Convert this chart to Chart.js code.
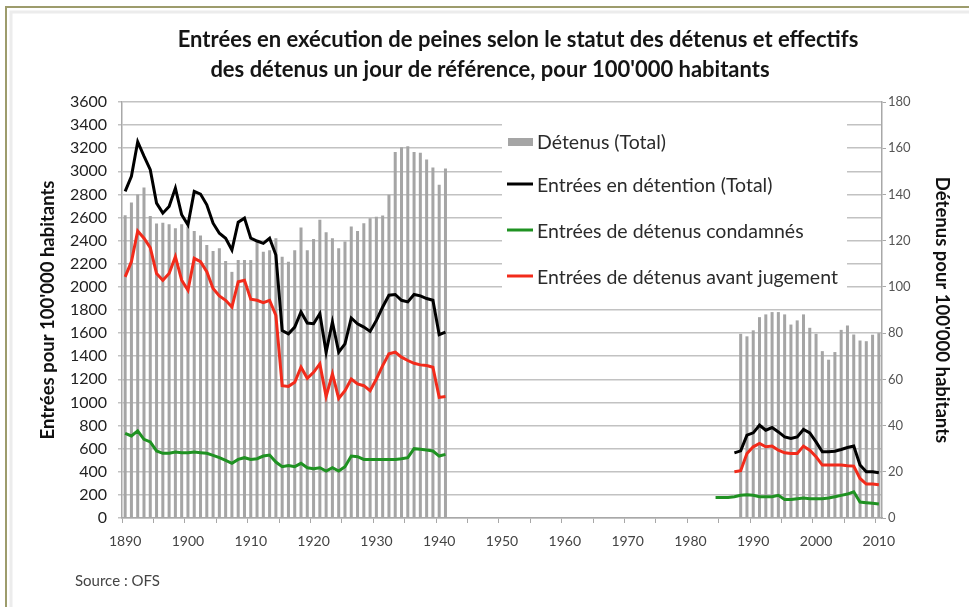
<!DOCTYPE html>
<html lang="fr">
<head>
<meta charset="utf-8">
<title>Entrées en exécution de peines</title>
<script src="https://cdn.jsdelivr.net/npm/chart.js@4.4.1/dist/chart.umd.min.js"></script>
<style>
  html, body { margin: 0; padding: 0; background: #fff; }
  #wrap { position: relative; width: 969px; height: 607px; }
</style>
</head>
<body>
<div id="wrap"><canvas id="chart" width="969" height="607"></canvas></div>
<script>
// categories: one per year, 1890 to 2010
const years = [];
for (let y = 1890; y <= 2010; y++) years.push(String(y));

// labels shown under the x axis
const tickYears = ["1890", "1900", "1910", "1920", "1930", "1940", "1950",
  "1960", "1970", "1980", "1990", "2000", "2010"];

// Détenus (Total), right axis, 1890-1941 and 1988-2010
const detenusEarly = [131, 136.5, 140, 143, 130.7, 127.4, 127.8, 127.1, 125.4, 127.1,
  126.1, 124.2, 122.2, 118.1, 115.5, 116.7, 111.2, 106.5, 111.6, 111.6,
  111.6, 119.6, 115.2, 115.9, 121, 113, 110.9, 115.9, 125.7, 115.9,
  120.7, 129, 123.6, 121, 116.7, 119.6, 126.1, 124.2, 127.5, 129.7,
  130.4, 130.9, 139.9, 158.4, 160.4, 160.9, 158.4, 158, 155.1, 151.7,
  144.2, 151.2];
const detenusLate = [79.7, 78.6, 81.2, 86.9, 88.1, 89.1, 89.1, 88.1, 83.7, 85.5,
  88.1, 82.3, 79.7, 72.2, 68.5, 71.8, 81.4, 83.3, 79.4, 76.8,
  76.5, 79.3, 80];

// Entrées en détention (Total), 1890-1941 and 1987-2010
const totalEarly = [2826, 2957, 3256, 3131, 3015, 2725, 2638, 2696, 2855, 2624,
  2537, 2826, 2803, 2710, 2551, 2464, 2421, 2319, 2560, 2595,
  2421, 2397, 2377, 2421, 2276, 1623, 1594, 1652, 1783, 1687,
  1681, 1768, 1435, 1696, 1435, 1507, 1731, 1681, 1652, 1615,
  1710, 1826, 1928, 1934, 1884, 1870, 1934, 1922, 1899, 1884,
  1586, 1609];
const totalLate = [564, 581, 717, 737, 803, 760, 783, 745, 702, 688,
  702, 766, 737, 659, 573, 573, 578, 593, 610, 622,
  458, 400, 400, 391];

// Entrées de détenus condamnés, 1890-1941 and 1984-2010
const condamnesEarly = [733, 710, 754, 681, 658, 580, 560, 560, 571, 565,
  565, 571, 565, 560, 542, 522, 499, 473, 507, 522,
  507, 513, 536, 545, 484, 444, 455, 444, 473, 435,
  426, 435, 406, 435, 406, 444, 536, 531, 507, 507,
  507, 507, 507, 507, 513, 522, 600, 594, 588, 580,
  536, 551];
const condamnesLate = [178, 178, 178, 184, 196, 201, 196, 184, 184, 184,
  196, 161, 161, 167, 173, 167, 167, 167, 173, 184,
  196, 207, 227, 138, 132, 127, 121];

// Entrées de détenus avant jugement, 1890-1941 and 1987-2010
const avantEarly = [2087, 2218, 2484, 2421, 2339, 2116, 2058, 2116, 2261, 2058,
  1971, 2247, 2218, 2131, 1986, 1922, 1884, 1826, 2044, 2058,
  1893, 1884, 1864, 1884, 1754, 1145, 1139, 1174, 1305, 1209,
  1261, 1334, 1052, 1247, 1035, 1102, 1203, 1160, 1145, 1102,
  1203, 1319, 1421, 1435, 1392, 1363, 1339, 1325, 1319, 1305,
  1044, 1052];
const avantLate = [400, 409, 558, 616, 645, 616, 622, 587, 564, 558,
  558, 622, 587, 530, 458, 458, 458, 458, 452, 449,
  342, 294, 294, 288];

// put the two periods on the full year axis, gaps stay null
function placeSeries(early, lateStart, late) {
  const out = years.map(() => null);
  early.forEach((v, i) => { out[i] = v; });
  const offset = years.indexOf(String(lateStart));
  late.forEach((v, i) => { out[offset + i] = v; });
  return out;
}

const detenus = placeSeries(detenusEarly, 1988, detenusLate);
const total = placeSeries(totalEarly, 1987, totalLate);
const condamnes = placeSeries(condamnesEarly, 1984, condamnesLate);
const avant = placeSeries(avantEarly, 1987, avantLate);

const FONT = "Lato, 'DejaVu Sans', sans-serif";

// title, source, legend box and frame
const decorations = {
  id: "decorations",
  beforeDraw(chart) {
    const c = chart.ctx;
    c.save();
    c.fillStyle = "#fff";
    c.fillRect(0, 0, chart.width, chart.height);
    c.strokeStyle = "#ececec";
    c.lineWidth = 3;
    c.beginPath();
    c.moveTo(11, chart.height);
    c.lineTo(11, 12);
    c.lineTo(chart.width, 12);
    c.stroke();
    c.strokeStyle = "#9d9c6c";
    c.lineWidth = 2;
    c.beginPath();
    c.moveTo(6, chart.height);
    c.lineTo(6, 7);
    c.lineTo(chart.width, 7);
    c.stroke();
    c.restore();
  },
  afterDraw(chart) {
    const c = chart.ctx;
    c.save();

    c.fillStyle = "#151515";
    c.font = "bold 22px " + FONT;
    c.textAlign = "center";
    c.textBaseline = "middle";
    c.fillText("Entrées en exécution de peines selon le statut des détenus et effectifs", 518, 40);
    c.fillText("des détenus un jour de référence, pour 100'000 habitants", 490, 70);

    c.fillStyle = "#444";
    c.font = "15px " + FONT;
    c.textAlign = "left";
    c.fillText("Source : OFS", 75, 581);

    // legend inside the plot
    c.fillStyle = "#fff";
    c.fillRect(502, 110, 345, 188);
    const ds = chart.data.datasets;
    const bar = ds.find((d) => d.type === "bar");
    const lines = ds.filter((d) => d.type === "line");
    c.font = "19.5px " + FONT;
    c.textBaseline = "middle";
    c.fillStyle = bar.backgroundColor;
    c.fillRect(508, 138, 25, 8);
    c.fillStyle = "#2b2b2b";
    c.fillText(bar.label, 537, 143);
    const rowsY = [186, 232, 278];
    lines.forEach((d, i) => {
      c.strokeStyle = d.borderColor;
      c.lineWidth = 3;
      c.beginPath();
      c.moveTo(507, rowsY[i] - 2);
      c.lineTo(533, rowsY[i] - 2);
      c.stroke();
      c.fillStyle = "#2b2b2b";
      c.fillText(d.label, 537, rowsY[i]);
    });
    c.restore();
  },
};

const gridGray = "#c2c2c2";
const axisGray = "#a8a8a8";

new Chart(document.getElementById("chart"), {
  type: "bar",
  data: {
    labels: years,
    datasets: [
      {
        type: "line",
        label: "Entrées en détention (Total)",
        data: total,
        borderColor: "#000000",
        borderWidth: 3,
        pointRadius: 0,
        yAxisID: "y",
        order: 1,
      },
      {
        type: "line",
        label: "Entrées de détenus condamnés",
        data: condamnes,
        borderColor: "#1f9222",
        borderWidth: 3,
        pointRadius: 0,
        yAxisID: "y",
        order: 2,
      },
      {
        type: "line",
        label: "Entrées de détenus avant jugement",
        data: avant,
        borderColor: "#f22b1b",
        borderWidth: 3,
        pointRadius: 0,
        yAxisID: "y",
        order: 3,
      },
      {
        type: "bar",
        label: "Détenus (Total)",
        data: detenus,
        backgroundColor: "#a5a5a5",
        barPercentage: 0.48,
        categoryPercentage: 1,
        yAxisID: "y1",
        order: 4,
      },
    ],
  },
  options: {
    responsive: false,
    animation: false,
    layout: { padding: { left: 37, right: 16, top: 102, bottom: 40 } },
    plugins: { legend: { display: false }, tooltip: { enabled: false } },
    scales: {
      x: {
        afterFit: (s) => { s.height = 49; },
        grid: {
          drawOnChartArea: false,
          tickLength: 5,
          color: (ctx) => (ctx.index % 5 === 0 ? axisGray : "rgba(0,0,0,0)"),
        },
        border: { color: axisGray, width: 1.5 },
        ticks: {
          autoSkip: false,
          maxRotation: 0,
          padding: 10,
          color: "#444",
          font: { family: FONT, size: 14 },
          callback: function (value) {
            const lab = this.getLabelForValue(value);
            return tickYears.includes(lab) ? lab : "";
          },
        },
      },
      y: {
        position: "left",
        min: 0,
        max: 3600,
        afterFit: (s) => { s.width = 85; },
        grid: { color: gridGray, lineWidth: 1.5, tickLength: 4 },
        border: { color: axisGray, width: 1.5 },
        ticks: {
          stepSize: 200,
          padding: 11,
          color: "#222",
          font: { family: FONT, size: 16 },
          callback: (v) => String(v),
        },
        title: {
          display: true,
          text: "Entrées pour 100'000 habitants",
          color: "#111",
          padding: 0,
          font: { family: FONT, size: 18.5, weight: "bold" },
        },
      },
      y1: {
        position: "right",
        min: 0,
        max: 180,
        afterFit: (s) => { s.width = 71; },
        grid: { drawOnChartArea: false, color: axisGray, tickLength: 4 },
        border: { color: axisGray, width: 1.5 },
        ticks: {
          stepSize: 20,
          padding: 2,
          color: "#555",
          font: { family: FONT, size: 13 },
          callback: (v) => String(v),
        },
        title: {
          display: true,
          text: "Détenus pour 100'000 habitants",
          color: "#111",
          padding: 0,
          font: { family: FONT, size: 18.5, weight: "bold" },
        },
      },
    },
  },
  plugins: [decorations],
});
</script>
</body>
</html>
